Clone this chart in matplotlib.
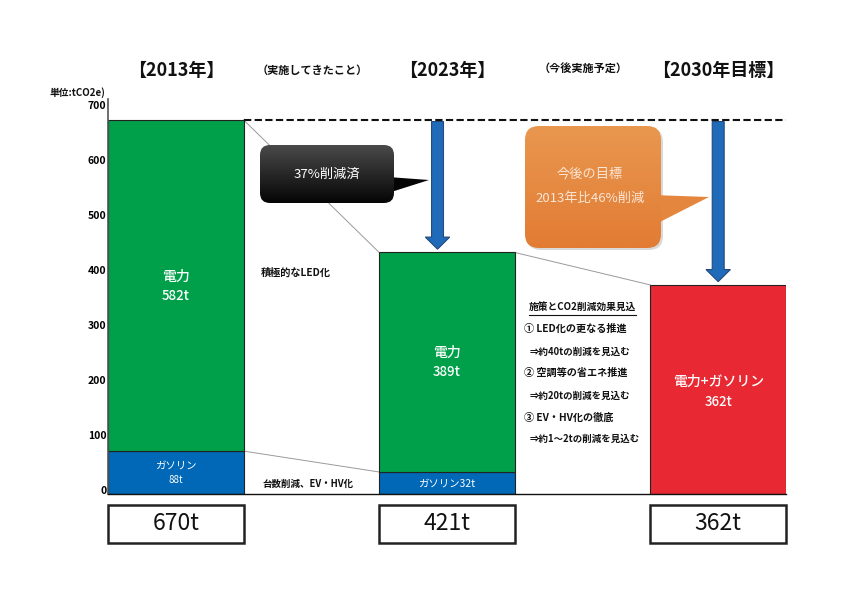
import matplotlib
matplotlib.use('Agg')
import matplotlib.pyplot as plt
import numpy as np
from matplotlib.patches import FancyBboxPatch, Polygon, Rectangle, FancyArrow
from matplotlib.colors import LinearSegmentedColormap
from matplotlib.transforms import ScaledTranslation

plt.rcParams['font.family'] = ['Noto Sans CJK JP', 'DejaVu Sans']

# データ（図から読み取った棒の高さ）
years = ['【2013年】', '【2023年】', '【2030年目標】']
elec_h = [602, 399, 0]
gas_h = [78, 40, 0]
total_h = [0, 0, 380]       # 2030年は電力+ガソリン合計のみ
totals_txt = ['670t', '421t', '362t']
elec_txt = ['582t', '389t']
gas_txt = ['88t', '32t']
target_txt = '362t'
yticks = [0, 100, 200, 300, 400, 500, 600, 700]

green = '#00A04A'
blue = '#0068B7'
red = '#E82832'
arrow_c = '#1F6BBA'

fig = plt.figure(figsize=(8.42, 5.95), dpi=100)
W, H = 842, 595
ax = fig.add_axes([108 / W, 101 / H, 678 / W, 395 / H])

x = np.arange(3)
ax.bar(x, gas_h, width=0.5, color=blue, edgecolor='#222222', linewidth=0.8, zorder=2)
ax.bar(x, elec_h, width=0.5, bottom=gas_h, color=green, edgecolor='#222222', linewidth=0.8, zorder=2)
ax.bar(x, total_h, width=0.5, color=red, edgecolor='#222222', linewidth=0.8, zorder=2)

top = [elec_h[i] + gas_h[i] + total_h[i] for i in range(3)]
ax.set_xlim(-0.25, 2.25)
ax.set_ylim(0, 718)

# 基準ライン（2013年）
ax.hlines(top[0], 0.25, 2.25, colors='#111111', linestyles=(0, (3.5, 1.6)), linewidth=1.5, zorder=3)

# 棒の間のつなぎ線
ax.plot([0.25, 0.75], [top[0], top[1]], color='#9a9a9a', lw=0.7, zorder=1)
ax.plot([1.25, 1.75], [top[1], top[2]], color='#9a9a9a', lw=0.7, zorder=1)
ax.plot([0.25, 0.75], [gas_h[0], gas_h[1]], color='#9a9a9a', lw=0.7, zorder=1)

# 下向き矢印
for ax_x, tip in [(0.965, top[1] + 6), (2.0, top[2] + 6)]:
    arr = FancyArrow(ax_x, top[0] - 3, 0, tip - (top[0] - 3), width=0.044, head_width=0.09,
                     head_length=22, length_includes_head=True, facecolor=arrow_c,
                     edgecolor='#24497a', linewidth=0.8, zorder=5)
    ax.add_patch(arr)

# 棒の中の文字
ax.text(0, 395, '電力', color='white', ha='center', va='center', fontsize=10, fontweight='medium', zorder=4)
ax.text(0, 360, elec_txt[0], color='white', ha='center', va='center', fontsize=9.5, fontweight='medium', zorder=4)
ax.text(0, 51, 'ガソリン', color='white', ha='center', va='center', fontsize=7.5, zorder=4)
ax.text(0, 25, gas_txt[0], color='white', ha='center', va='center', fontsize=7, zorder=4)
ax.text(1, 256, '電力', color='white', ha='center', va='center', fontsize=10, fontweight='medium', zorder=4)
ax.text(1, 222, elec_txt[1], color='white', ha='center', va='center', fontsize=9.5, fontweight='medium', zorder=4)
ax.text(1, 18, 'ガソリン' + gas_txt[1], color='white', ha='center', va='center', fontsize=7.5, zorder=4)
ax.text(2, 204, '電力+ガソリン', color='white', ha='center', va='center', fontsize=10, fontweight='medium', zorder=4)
ax.text(2, 167, target_txt, color='white', ha='center', va='center', fontsize=9.5, fontweight='medium', zorder=4)

ax.set_yticks(yticks)
ax.set_xticks([])
ax.tick_params(axis='y', length=0, pad=1, labelsize=7.5)
for lab in ax.get_yticklabels():
    lab.set_fontweight('bold')
    lab.set_transform(lab.get_transform() + ScaledTranslation(0, 4 / 100, fig.dpi_scale_trans))
for s in ['top', 'right']:
    ax.spines[s].set_visible(False)
ax.spines['left'].set_color('#555555')
ax.spines['left'].set_linewidth(1.2)
ax.spines['bottom'].set_color('#111111')
ax.spines['bottom'].set_linewidth(1.0)

# ここから上に重ねる図形（ピクセル座標）
ov = fig.add_axes([0, 0, 1, 1], zorder=10)
ov.set_facecolor('none')
ov.axis('off')


def grad_box(x0, y0, x1, y1, r, c1, c2, z):
    p = FancyBboxPatch((x0, y0), x1 - x0, y1 - y0, boxstyle='round,pad=0,rounding_size=%d' % r,
                       facecolor='none', edgecolor='none', zorder=z)
    ov.add_patch(p)
    cm = LinearSegmentedColormap.from_list('g', [c1, c2])
    img = np.linspace(0, 1, 100).reshape(-1, 1)
    ov.imshow(img, cmap=cm, extent=(x0, x1, y1, y0), aspect='auto', clip_path=p, zorder=z)


# 37%削減済 の吹き出し
ov.add_patch(Polygon([(388, 177), (429, 180), (388, 193)], closed=True, facecolor='#050505', edgecolor='none', zorder=3))
grad_box(260, 145, 394, 203, 10, '#4a4a4a', '#050505', 3)
ov.text(327, 174, '37%削減済', color='white', ha='center', va='center', fontsize=9.5, zorder=4)

# 今後の目標 の吹き出し
shadow = FancyBboxPatch((527, 128), 136, 122, boxstyle='round,pad=0,rounding_size=14',
                        facecolor='#d9d9d9', edgecolor='none', zorder=2)
ov.add_patch(shadow)
ov.add_patch(Polygon([(652, 195), (709, 197), (652, 226)], closed=True, facecolor='#E5863F', edgecolor='none', zorder=3))
grad_box(525, 126, 661, 248, 14, '#E9974F', '#E27C34', 3)
ov.text(590, 174, '今後の目標', color='#FBE6D6', ha='center', va='center', fontsize=9.5, zorder=4)
ov.text(590, 198, '2013年比46%削減', color='#FBE6D6', ha='center', va='center', fontsize=9.5, zorder=4)

# 見出し
for cx, t in zip([176, 447, 718], years):
    ov.text(cx, 70, t, ha='center', va='center', fontsize=13, fontweight='bold', color='#111111')
ov.text(312, 70, '（実施してきたこと）', ha='center', va='center', fontsize=8, fontweight='bold', color='#111111')
ov.text(583, 69, '（今後実施予定）', ha='center', va='center', fontsize=8, fontweight='bold', color='#111111')
ov.text(50, 93, '単位:tCO2e)', ha='left', va='center', fontsize=7, fontweight='bold', color='#111111')

# 中間の説明
ov.text(261, 273, '積極的なLED化', ha='left', va='center', fontsize=7.3, fontweight='bold', color='#111111')
ov.text(262, 484, '台数削減、EV・HV化', ha='left', va='center', fontsize=6.8, fontweight='bold', color='#111111')

# 施策の一覧
ov.text(529, 307, '施策とCO2削減効果見込', ha='left', va='center', fontsize=7, fontweight='bold', color='#111111')
ov.plot([529, 636], [315, 315], color='#111111', lw=0.8)
items = [(524, 329, '① LED化の更なる推進'), (530, 352, '⇒約40tの削減を見込む'),
         (524, 373, '② 空調等の省エネ推進'), (530, 396, '⇒約20tの削減を見込む'),
         (524, 418, '③ EV・HV化の徹底'), (530, 439, '⇒約1～2tの削減を見込む')]
for ix, iy, t in items:
    fs = 7.3 if t[0] in '①②③' else 6.8
    ov.text(ix, iy, t, ha='left', va='center', fontsize=fs, fontweight='bold', color='#111111')

# 合計の枠
for i, t in enumerate(totals_txt):
    bx = 108 + 271 * i
    ov.add_patch(Rectangle((bx, 505), 136, 38, facecolor='white', edgecolor='#222222', linewidth=1.8))
    ov.text(bx + 68, 523, t, ha='center', va='center', fontsize=16.5, fontweight='normal', color='#111111')

ov.set_xlim(0, W)
ov.set_ylim(H, 0)

fig.savefig('out.png', dpi=100, facecolor='white')
